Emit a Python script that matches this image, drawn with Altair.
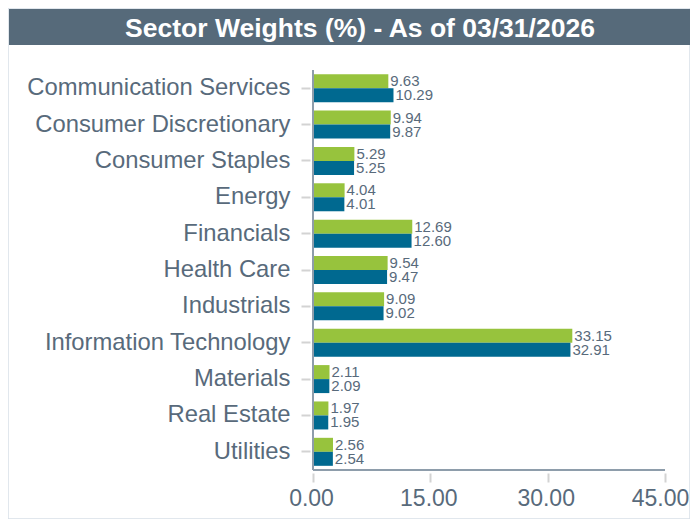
import altair as alt
import pandas as pd

sectors = [
    "Communication Services", "Consumer Discretionary", "Consumer Staples",
    "Energy", "Financials", "Health Care", "Industrials",
    "Information Technology", "Materials", "Real Estate", "Utilities",
]
fund = [9.63, 9.94, 5.29, 4.04, 12.69, 9.54, 9.09, 33.15, 2.11, 1.97, 2.56]
benchmark = [10.29, 9.87, 5.25, 4.01, 12.60, 9.47, 9.02, 32.91, 2.09, 1.95, 2.54]
series_names = ["Fund", "Benchmark"]
series_colors = ["#97c33d", "#006990"]
x_ticks = [0, 15, 30, 45]
title_text = "Sector Weights (%) - As of 03/31/2026"

rows = []
for s, f, b in zip(sectors, fund, benchmark):
    rows.append({"sector": s, "series": series_names[0], "value": f})
    rows.append({"sector": s, "series": series_names[1], "value": b})
df = pd.DataFrame(rows)

W, H = 352, 400
PL, PT = 305, 62
TOTAL_W, TOTAL_H = 682, 511
TEXT = "#586a7b"
LINE = "#8e9dab"

xenc = alt.X(
    "value:Q",
    scale=alt.Scale(domain=[0, 45], nice=False, zero=True),
    axis=alt.Axis(
        values=x_ticks, format=".2f", title=None, grid=False, domain=False,
        tickColor="#d3d3d3", tickSize=9, tickWidth=2, offset=3,
        labelFontSize=23, labelColor=TEXT, labelPadding=5, labelFont="Liberation Sans",
        labelFlush=False, labelOverlap=False, zindex=1,
        labelOffset={"condition": {"test": "datum.value >= 45", "value": -5}, "value": -2},
    ),
)
yenc = alt.Y(
    "sector:N", sort=sectors,
    scale=alt.Scale(paddingInner=0.23, paddingOuter=0.115),
    axis=alt.Axis(
        title=None, grid=False, domain=False,
        tickColor="#d3d3d3", tickSize=9, tickWidth=2, offset=3,
        labelFontSize=23.8, labelColor=TEXT, labelPadding=11, labelFont="Liberation Sans",
        labelLimit=400, zindex=1,
    ),
)
yoff = alt.YOffset("series:N", sort=series_names)
color = alt.Color("series:N", sort=series_names,
                  scale=alt.Scale(domain=series_names, range=series_colors), legend=None)

base = alt.Chart(df)
bars = base.mark_bar().encode(x=xenc, y=yenc, yOffset=yoff, color=color)
labels = base.mark_text(align="left", baseline="middle", dx=2, fontSize=15,
                        color=TEXT, font="Liberation Sans").encode(
    x="value:Q", y=alt.Y("sector:N", sort=sectors), yOffset=yoff,
    text=alt.Text("value:Q", format=".2f"),
)

deco = alt.Chart(pd.DataFrame({"t": [title_text]}))
border = deco.mark_rect(fillOpacity=0, stroke="#d8e0e8", strokeWidth=1.5).encode(
    x=alt.value(-PL), x2=alt.value(TOTAL_W - PL), y=alt.value(-PT), y2=alt.value(TOTAL_H - PT))
title_bar = deco.mark_rect(fill="#566a7a").encode(
    x=alt.value(-PL + 1), x2=alt.value(TOTAL_W - PL), y=alt.value(-PT + 1), y2=alt.value(-25))
title = deco.mark_text(fontSize=26.5, fontWeight="bold", color="white",
                       font="Liberation Sans", align="center", baseline="middle").encode(
    text="t:N", x=alt.value(47), y=alt.value(-41))
yline = deco.mark_rule(color=LINE, strokeWidth=2).encode(
    x=alt.value(0), y=alt.value(0), y2=alt.value(H))
xline = deco.mark_rule(color=LINE, strokeWidth=2).encode(
    x=alt.value(0), x2=alt.value(W), y=alt.value(H))

chart = alt.layer(border, title_bar, title, bars, labels, yline, xline).properties(
    width=W, height=H, autosize="none",
    padding={"left": PL, "top": PT, "right": TOTAL_W - PL - W, "bottom": TOTAL_H - PT - H},
).configure_view(stroke=None)

chart.save("out.html", embed_options={"renderer": "svg", "actions": False})
